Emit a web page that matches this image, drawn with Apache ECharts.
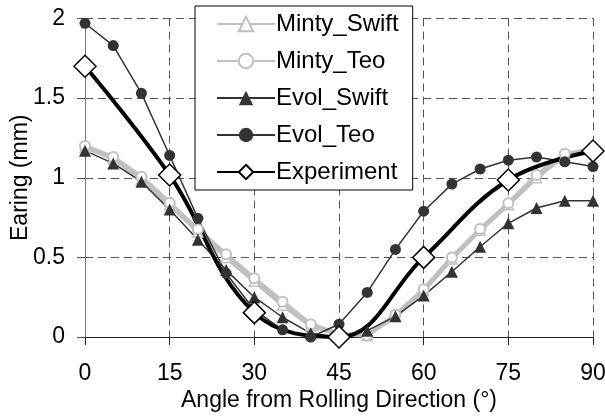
<!DOCTYPE html>
<html>
<head>
    <meta charset="utf-8">
    <title>Earing vs angle</title>
    <script src="https://cdn.jsdelivr.net/npm/echarts/dist/echarts.min.js"></script>
</head>
<body style="margin:0">
<div id="chart-container" style="width: 605px; height: 417px;"></div>
<script>
    // angles of the simulations and of the measurements
    var simAngles = [0, 5, 10, 15, 20, 25, 30, 35, 40, 45, 50, 55, 60, 65, 70, 75, 80, 85, 90];
    var expAngles = [0, 15, 30, 45, 60, 75, 90];

    // earing values (mm)
    var mintySwift = [1.19, 1.12, 0.99, 0.83, 0.66, 0.50, 0.35, 0.20, 0.07, 0.015, 0.01, 0.13, 0.29, 0.49, 0.67, 0.83, 1.00, 1.14, 1.18];
    var mintyTeo = [1.20, 1.13, 1.007, 0.843, 0.676, 0.52, 0.369, 0.222, 0.08, 0.02, 0.01, 0.14, 0.30, 0.50, 0.678, 0.84, 1.017, 1.15, 1.18];
    var evolSwift = [1.17, 1.09, 0.975, 0.80, 0.61, 0.42, 0.25, 0.124, 0.023, 0.0, 0.04, 0.13, 0.26, 0.41, 0.567, 0.714, 0.81, 0.856, 0.856];
    var evolTeo = [1.97, 1.83, 1.53, 1.14, 0.745, 0.40, 0.17, 0.045, 0.0, 0.08, 0.28, 0.55, 0.79, 0.96, 1.055, 1.11, 1.13, 1.10, 1.07];
    var experiment = [1.70, 1.017, 0.153, 0.0, 0.50, 0.986, 1.168];

    function pairs(xs, ys) {
        return xs.map(function (x, i) { return [x, ys[i]]; });
    }

    var font = 'Liberation Sans, Arial, sans-serif';
    var gridLine = { show: true, lineStyle: { color: '#555', type: [8, 5], width: 1 } };

    var option = {
        animation: false,
        backgroundColor: '#fff',
        textStyle: { fontFamily: font },
        grid: { left: 85, right: 12, top: 18.5, bottom: 80, containLabel: false, outerBoundsMode: 'none' },
        legend: {
            orient: 'vertical',
            left: 195,
            top: 6,
            padding: [6, 14, 6, 21],
            itemGap: 13,
            itemWidth: 58,
            itemHeight: 18,
            backgroundColor: '#fff',
            borderColor: '#000',
            borderWidth: 1,
            textStyle: { fontFamily: font, fontSize: 24, color: '#000', padding: [0, 0, 0, -4] },
            data: ['Minty_Swift', 'Minty_Teo', 'Evol_Swift', 'Evol_Teo', 'Experiment']
        },
        xAxis: {
            type: 'value',
            min: 0,
            max: 90,
            interval: 15,
            name: 'Angle from Rolling Direction (°)',
            nameLocation: 'middle',
            nameGap: 52,
            nameMoveOverlap: false,
            nameTextStyle: { fontFamily: font, fontSize: 23, color: '#000' },
            axisLine: { lineStyle: { color: '#222', width: 1 } },
            axisTick: { show: true, length: 8, lineStyle: { color: '#222' } },
            axisLabel: { fontFamily: font, fontSize: 23, color: '#000', margin: 25 },
            splitLine: gridLine
        },
        yAxis: {
            type: 'value',
            min: 0,
            max: 2,
            interval: 0.5,
            name: 'Earing (mm)',
            nameLocation: 'middle',
            nameGap: 53,
            nameMoveOverlap: false,
            nameTextStyle: { fontFamily: font, fontSize: 23, color: '#000' },
            axisLine: { show: true, lineStyle: { color: '#777', width: 1 } },
            axisTick: { show: true, length: 8, lineStyle: { color: '#555' } },
            axisLabel: { fontFamily: font, fontSize: 23, color: '#000', margin: 20 },
            splitLine: gridLine
        },
        series: [
            {
                name: 'Minty_Swift',
                type: 'line',
                data: pairs(simAngles, mintySwift),
                symbol: 'triangle',
                symbolSize: 10,
                lineStyle: { color: '#c0c0c0', width: 4 },
                itemStyle: { color: '#fff', borderColor: '#c0c0c0', borderWidth: 1.5 }
            },
            {
                name: 'Minty_Teo',
                type: 'line',
                data: pairs(simAngles, mintyTeo),
                symbol: 'circle',
                symbolSize: 10,
                lineStyle: { color: '#c0c0c0', width: 4 },
                itemStyle: { color: '#fff', borderColor: '#c0c0c0', borderWidth: 2 }
            },
            {
                name: 'Evol_Swift',
                type: 'line',
                data: pairs(simAngles, evolSwift),
                symbol: 'triangle',
                symbolSize: 12,
                lineStyle: { color: '#333', width: 1.5 },
                itemStyle: { color: '#333', borderColor: '#333', borderWidth: 0 }
            },
            {
                name: 'Evol_Teo',
                type: 'line',
                data: pairs(simAngles, evolTeo),
                symbol: 'circle',
                symbolSize: 11,
                lineStyle: { color: '#333', width: 1.5 },
                itemStyle: { color: '#333', borderColor: '#333', borderWidth: 0 }
            },
            {
                name: 'Experiment',
                type: 'line',
                smooth: 0.4,
                data: pairs(expAngles, experiment),
                symbol: 'diamond',
                symbolSize: 22,
                lineStyle: { color: '#000', width: 4 },
                itemStyle: { color: '#fff', borderColor: '#000', borderWidth: 1.5 }
            }
        ]
    };

    var chart = echarts.init(document.getElementById('chart-container'));
    chart.setOption(option);
</script>
</body>
</html>
